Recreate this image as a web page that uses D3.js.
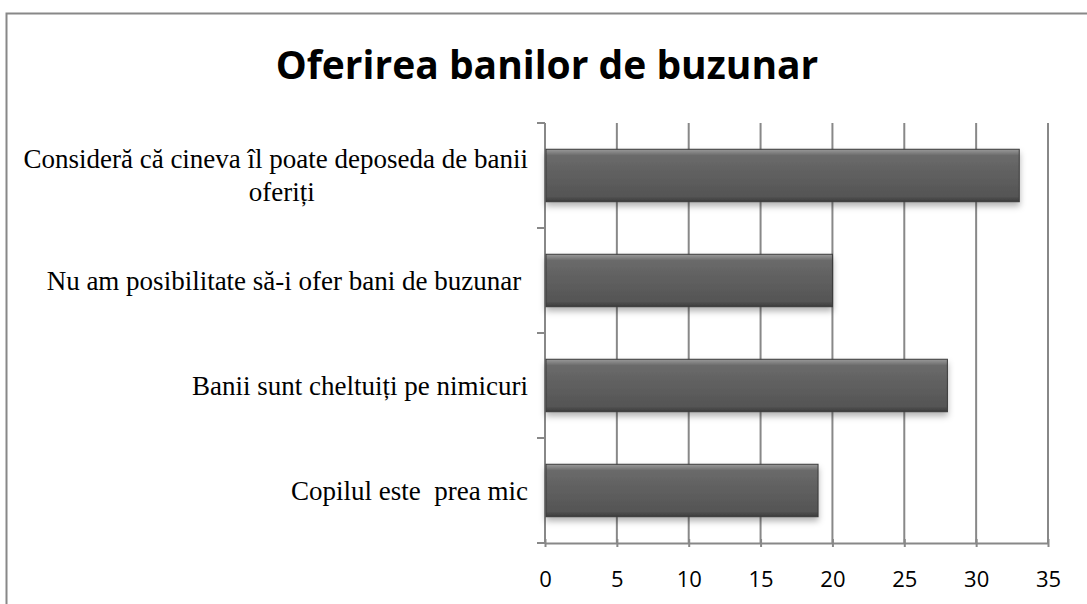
<!DOCTYPE html>
<html>
<head>
<meta charset="utf-8">
<script src="https://cdn.jsdelivr.net/npm/d3@7"></script>
<style>
  body { margin: 0; background: #fff; }
  svg { display: block; }
</style>
</head>
<body>
<svg id="chart"></svg>
<script>
// data
const categories = [
  ["Consideră că cineva îl poate deposeda de banii", "oferiți"],
  ["Nu am posibilitate să-i ofer bani de buzunar "],
  ["Banii sunt cheltuiți pe nimicuri"],
  ["Copilul este  prea mic"]
];
const values = [33, 20, 28, 19];
const xTicks = [0, 5, 10, 15, 20, 25, 30, 35];
const title = "Oferirea banilor de buzunar";

const width = 1087, height = 604;
const plotLeft = 545, plotRight = 1048, plotTop = 123, plotBottom = 543;

const svg = d3.select("#chart").attr("width", width).attr("height", height);

/* defs: bar gradient + shadow */
const defs = svg.append("defs");
const grad = defs.append("linearGradient").attr("id", "barGrad")
  .attr("x1", 0).attr("y1", 0).attr("x2", 0).attr("y2", 1);
grad.append("stop").attr("offset", "0%").attr("stop-color", "#9a9a9a");
grad.append("stop").attr("offset", "12%").attr("stop-color", "#6a6a6a");
grad.append("stop").attr("offset", "60%").attr("stop-color", "#5c5c5c");
grad.append("stop").attr("offset", "90%").attr("stop-color", "#555");
grad.append("stop").attr("offset", "100%").attr("stop-color", "#3a3a3a");

const shadow = defs.append("filter").attr("id", "shadow")
  .attr("x", "-5%").attr("y", "-20%").attr("width", "110%").attr("height", "160%");
shadow.append("feDropShadow").attr("dx", 0).attr("dy", 4).attr("stdDeviation", 3)
  .attr("flood-color", "#000").attr("flood-opacity", 0.3);

/* frame */
svg.append("rect").attr("x", 6.5).attr("y", 13.5)
  .attr("width", width + 10).attr("height", height + 10)
  .attr("fill", "none").attr("stroke", "#888").attr("stroke-width", 2);

/* title */
svg.append("text").attr("x", 547).attr("y", 79)
  .attr("text-anchor", "middle")
  .style("font-family", "'Open Sans', sans-serif")
  .style("font-weight", "bold").style("font-size", "39px")
  .attr("fill", "#000").text(title);

/* scales */
const x = d3.scaleLinear().domain([0, 35]).range([plotLeft, plotRight]);
const y = d3.scaleBand().domain(d3.range(categories.length))
  .range([plotTop, plotBottom]).paddingInner(0.5).paddingOuter(0.25);

/* gridlines */
svg.append("g").selectAll("line").data(xTicks.slice(1)).enter().append("line")
  .attr("x1", d => x(d)).attr("x2", d => x(d))
  .attr("y1", plotTop).attr("y2", plotBottom)
  .attr("stroke", "#888").attr("stroke-width", 2);

/* x axis */
const xAxis = d3.axisBottom(x).tickValues(xTicks).tickSize(8).tickSizeOuter(0);
const gx = svg.append("g").attr("transform", `translate(0,${plotBottom})`).call(xAxis);
gx.select(".domain").attr("stroke", "#888").attr("stroke-width", 2);
gx.selectAll(".tick line").attr("stroke", "#888").attr("stroke-width", 2).attr("y1", -4).attr("y2", 4);
gx.selectAll(".tick text").attr("y", 44).attr("dy", 0)
  .style("font-family", "'Open Sans', sans-serif").style("font-size", "22px").attr("fill", "#000");

/* y axis (category boundaries) */
const yb = d3.scaleLinear().domain([0, categories.length]).range([plotTop, plotBottom]);
svg.append("line").attr("x1", plotLeft).attr("x2", plotLeft).attr("y1", plotTop).attr("y2", plotBottom)
  .attr("stroke", "#888").attr("stroke-width", 2);
svg.append("g").selectAll("line").data(d3.range(categories.length + 1)).enter().append("line")
  .attr("x1", plotLeft - 8).attr("x2", plotLeft)
  .attr("y1", d => yb(d)).attr("y2", d => yb(d))
  .attr("stroke", "#888").attr("stroke-width", 2);

/* bars */
svg.append("g").selectAll("rect").data(values).enter().append("rect")
  .attr("x", x(0) + 1)
  .attr("y", (d, i) => y(i))
  .attr("width", d => x(d) - x(0) - 1)
  .attr("height", y.bandwidth())
  .attr("fill", "url(#barGrad)")
  .attr("stroke", "#3a3a3a").attr("stroke-width", 1)
  .attr("filter", "url(#shadow)");

/* category labels */
const labels = svg.append("g").selectAll("text").data(categories).enter().append("text")
  .style("font-family", "'Liberation Serif', 'Times New Roman', serif")
  .style("font-size", "27px").style("white-space", "pre").attr("fill", "#000");
labels.each(function (lines, i) {
  const t = d3.select(this);
  const cy = y(i) + y.bandwidth() / 2;
  const lh = 33;
  const y0 = cy - (lines.length - 1) * lh / 2;
  const first = t.append("tspan").attr("x", 528).attr("y", y0).attr("dy", "0.35em")
    .attr("text-anchor", "end").text(lines[0]);
  if (lines.length > 1) {
    // following lines centered under the first one
    const w = first.node().getComputedTextLength();
    lines.slice(1).forEach((l, k) => {
      t.append("tspan").attr("x", 528 - w / 2 + 6).attr("y", y0 + lh * (k + 1)).attr("dy", "0.35em")
        .attr("text-anchor", "middle").text(l);
    });
  }
});
</script>
</body>
</html>
